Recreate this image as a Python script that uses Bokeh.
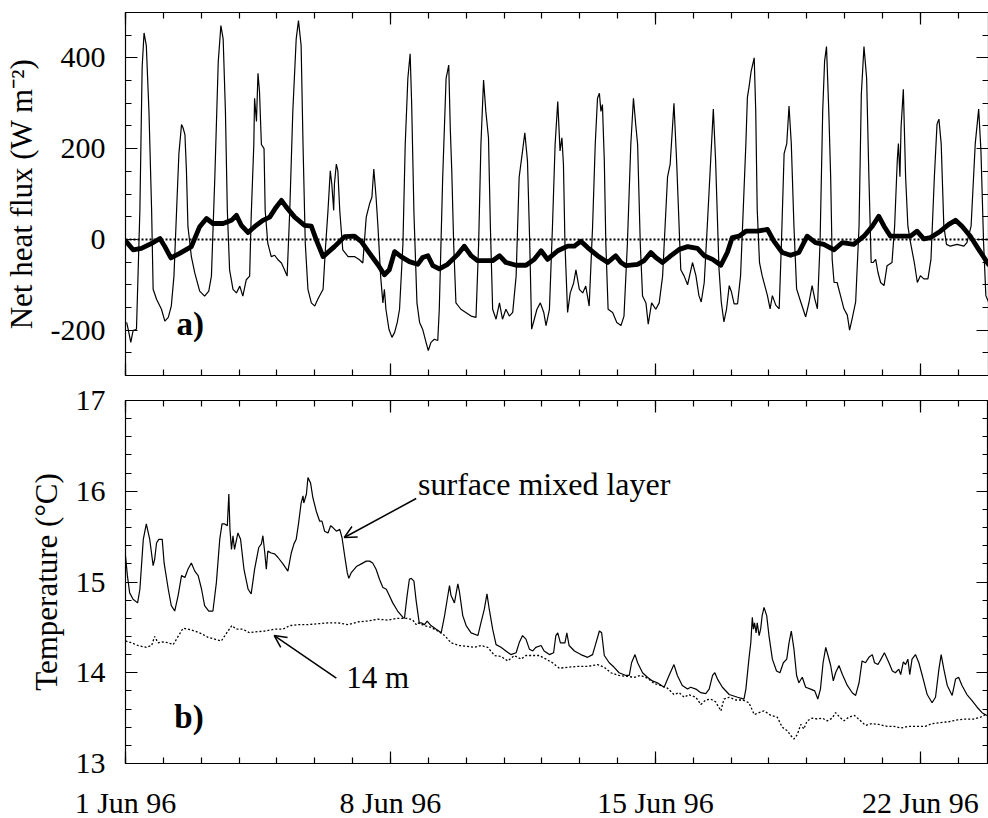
from bokeh.plotting import figure
from bokeh.layouts import column
from bokeh.models import Range1d, FixedTicker, LinearAxis, Span, Arrow, OpenHead, Label
from bokeh.embed import file_html
from bokeh.resources import INLINE

FONT = "Liberation Serif"

# ---------------- data (days since 1 Jun 1996 00:00) ----------------
flux_day = [0.03, 0.07, 0.14, 0.20, 0.29, 0.38, 0.44, 0.49, 0.55, 0.62, 0.69, 0.73, 0.82, 0.95,
            1.04, 1.13, 1.21, 1.28, 1.35, 1.41, 1.48, 1.52, 1.57, 1.61, 1.65, 1.74, 1.83, 1.96,
            2.09, 2.20, 2.27, 2.36, 2.45, 2.52, 2.58, 2.64, 2.69, 2.75, 2.84, 2.93,
            3.02, 3.10, 3.19, 3.28, 3.32, 3.39, 3.41, 3.46, 3.50, 3.54, 3.59, 3.66, 3.69, 3.76, 3.85, 3.94,
            4.03, 4.12, 4.20, 4.27, 4.34, 4.42, 4.51, 4.57, 4.64, 4.69, 4.75, 4.82, 4.91,
            5.00, 5.08, 5.22, 5.28, 5.35, 5.41, 5.45, 5.50, 5.52, 5.57, 5.61, 5.66, 5.74, 5.88,
            6.05, 6.18, 6.27, 6.36, 6.45, 6.51, 6.56, 6.62, 6.67, 6.74, 6.80, 6.84, 6.88, 6.96,
            7.04, 7.11, 7.18, 7.24, 7.33, 7.39, 7.46, 7.52, 7.56, 7.62, 7.70, 7.77, 7.85, 7.94,
            8.00, 8.07, 8.16, 8.25, 8.29, 8.38, 8.47, 8.54, 8.58, 8.62, 8.67, 8.73, 8.86, 8.99,
            9.13, 9.26, 9.33, 9.39, 9.46, 9.52, 9.59, 9.64, 9.70, 9.79, 9.88, 9.96,
            10.05, 10.14, 10.23, 10.32, 10.40, 10.49, 10.55, 10.62, 10.68, 10.73, 10.80, 10.87, 10.96,
            11.05, 11.11, 11.20, 11.28, 11.35, 11.42, 11.48, 11.53, 11.57, 11.61, 11.68, 11.75, 11.84, 11.90, 11.99,
            12.08, 12.16, 12.25, 12.34, 12.41, 12.47, 12.52, 12.56, 12.60, 12.65, 12.69, 12.75, 12.87, 12.98,
            13.09, 13.17, 13.26, 13.35, 13.42, 13.48, 13.53, 13.60, 13.66, 13.75, 13.81, 13.90,
            14.01, 14.10, 14.19, 14.32, 14.39, 14.45, 14.49, 14.56, 14.61, 14.67, 14.76, 14.85, 14.98,
            15.07, 15.15, 15.21, 15.29, 15.37, 15.46, 15.53, 15.59, 15.68, 15.74, 15.81, 15.88, 15.95,
            16.01, 16.08, 16.17, 16.25, 16.32, 16.39, 16.43, 16.47, 16.53, 16.61, 16.65, 16.69, 16.75, 16.82, 16.89, 16.96,
            17.03, 17.09, 17.18, 17.27, 17.33, 17.40, 17.47, 17.53, 17.59, 17.66, 17.73, 17.84, 17.97,
            18.06, 18.14, 18.21, 18.28, 18.35, 18.42, 18.47, 18.52, 18.58, 18.63, 18.67, 18.72, 18.80, 18.89, 18.98,
            19.07, 19.13, 19.20, 19.29, 19.38, 19.44, 19.51, 19.58, 19.64, 19.70, 19.75, 19.82, 19.88, 19.95,
            20.04, 20.12, 20.25, 20.32, 20.39, 20.42, 20.46, 20.49, 20.55, 20.61, 20.67, 20.74, 20.84, 20.92,
            21.00, 21.09, 21.20, 21.28, 21.37, 21.44, 21.49, 21.55, 21.62, 21.69, 21.79, 21.97,
            22.15, 22.23, 22.34, 22.45, 22.54, 22.60, 22.67, 22.73, 22.80]
flux_val = [-183, -198, -227, -201, -198, 64, 380, 455, 427, 282, 64, -110, -132, -154,
            -180, -172, -147, -81, 64, 188, 253, 246, 231, 151, 28, -38, -74, -114,
            -125, -114, -81, 137, 391, 471, 442, 282, 64, -67, -110, -118,
            -103, -125, -89, -81, 49, 209, 311, 260, 366, 326, 209, 200, 64, -9, -38, -35,
            -45, -52, -67, -81, 64, 282, 442, 482, 427, 209, -9, -110, -140,
            -147, -132, -110, -23, 64, 151, 122, 64, 122, 166, 151, 64, -23, -38,
            -38, -45, -52, 49, 79, 93, 155, 93, 28, -81, -140, -110, -154, -198,
            -216, -205, -183, -154, -9, 209, 355, 409, 300, 60, -140, -183, -198, -227,
            -245, -227, -220, -223, -154, 137, 355, 384, 246, 151, -9, -140, -154, -161,
            -169, -172, -9, 209, 351, 282, 224, 28, -154, -176, -140, -176,
            -154, -169, -161, -81, 137, 195, 235, 173, -9, -198, -176, -154, -140,
            -161, -190, -154, 28, 209, 304, 195, 224, 166, -9, -161, -118, -96, -67, -110,
            -118, -103, -147, 28, 209, 311, 322, 282, 297, 173, -9, -154, -161, -183,
            -190, -169, -9, 209, 311, 253, 209, -9, -125, -140, -187, -140,
            -154, -140, -81, 137, 166, 246, 300, 173, 64, -67, -81, -100, -51,
            -80, -124, -138, -95, 29, 174, 287, 174, -65, -138, -182, -153, -102,
            -116, -142, -142, -80, 65, 211, 313, 334, 371, 400, 284, 65, -51, -80, -102, -124,
            -153, -124, -145, -153, -7, 189, 211, 294, 211, 29, -109, -138, -171,
            -138, -102, -131, -153, -7, 284, 393, 425, 284, 138, -44, -95, -95, -124, -153,
            -167, -200, -174, -138, 29, 320, 425, 356, 138, -51, -51, -44, -73, -95,
            -102, -58, -51, 29, 174, 211, 138, 247, 331, 138, 29, -7, -51, -95,
            -80, -87, -87, -44, 138, 254, 265, 211, 29, -11, -15, -11,
            -15, -7, 29, 211, 287, 196, -7, -124, -138]

mean_day = [0.02, 0.20, 0.42, 0.69, 0.91, 1.04, 1.20, 1.43, 1.74, 1.96, 2.14, 2.31, 2.58, 2.80, 2.93,
            3.06, 3.24, 3.41, 3.63, 3.81, 3.98, 4.12, 4.25, 4.47, 4.73, 4.91, 5.04, 5.22, 5.52, 5.79,
            6.05, 6.23, 6.45, 6.67, 6.84, 6.97, 7.11, 7.28, 7.50, 7.72, 7.85, 7.99, 8.12, 8.29, 8.51,
            8.78, 8.95, 9.13, 9.30, 9.70, 9.88, 10.05, 10.32, 10.58, 10.80, 10.98, 11.15, 11.42, 11.68,
            11.86, 12.03, 12.21, 12.47, 12.74, 12.95, 13.09, 13.22, 13.53, 13.70, 13.88, 14.01, 14.19,
            14.41, 14.63, 14.85, 15.11, 15.29, 15.51, 15.73, 15.90, 16.03, 16.21, 16.39, 16.69, 16.96,
            17.13, 17.35, 17.57, 17.79, 18.01, 18.23, 18.45, 18.72, 18.94, 19.24, 19.51, 19.73, 19.90,
            20.04, 20.21, 20.48, 20.74, 20.91, 21.09, 21.27, 21.53, 21.75, 21.93, 22.10, 22.32, 22.54, 22.80]
mean_val = [-5, -23, -20, -9, 2, -16, -41, -31, -16, 28, 46, 35, 35, 42, 53,
            31, 15, 28, 42, 49, 71, 86, 71, 49, 31, 29, -1, -38, -16, 6,
            7, -5, -31, -56, -78, -67, -27, -38, -49, -55, -40, -36, -58, -65, -55,
            -33, -15, -36, -47, -47, -36, -51, -57, -57, -44, -25, -44, -25, -15,
            -15, -4, -18, -36, -51, -36, -51, -58, -55, -47, -29, -40, -51,
            -36, -22, -16, -20, -36, -44, -57, -29, 4, 7, 18, 18, 22,
            -4, -29, -35, -29, 7, -7, -11, -23, -7, -11, 7, 29, 51,
            29, 7, 7, 7, 18, 1, 4, 18, 33, 42, 29, 7, -22, -55]

sml_day = [0.00, 0.05, 0.11, 0.20, 0.32, 0.38, 0.47, 0.55, 0.64, 0.73, 0.77, 0.82, 0.88, 0.97,
           1.02, 1.13, 1.21, 1.30, 1.39, 1.48, 1.57, 1.65, 1.74, 1.83, 1.92, 2.01, 2.09, 2.20, 2.31,
           2.40, 2.49, 2.55, 2.62, 2.69, 2.73, 2.76, 2.80, 2.84, 2.88, 2.97, 3.04, 3.13, 3.24, 3.32,
           3.41, 3.52, 3.59, 3.63, 3.68, 3.72, 3.76, 3.85, 3.94, 4.03, 4.16, 4.29, 4.38, 4.45, 4.51,
           4.57, 4.64, 4.69, 4.71, 4.78, 4.82, 4.89, 4.95, 5.04, 5.13, 5.19, 5.26, 5.35, 5.42, 5.48,
           5.57, 5.66, 5.72, 5.79, 5.86, 5.90, 5.96, 6.10, 6.23, 6.36, 6.45, 6.53, 6.62, 6.71, 6.80,
           6.89, 6.97, 7.06, 7.19, 7.33, 7.37, 7.44, 7.50, 7.55, 7.62, 7.68, 7.76,
           7.81, 7.90, 7.97, 8.07, 8.21, 8.34, 8.43, 8.50, 8.56, 8.60, 8.69, 8.78, 8.82, 8.91,
           9.00, 9.13, 9.31, 9.39, 9.48, 9.55, 9.61, 9.70, 9.79, 9.92, 10.05, 10.18, 10.32, 10.40,
           10.49, 10.58, 10.67, 10.76, 10.84, 10.98, 11.06, 11.20, 11.31, 11.37, 11.42, 11.49, 11.61,
           11.66, 11.72, 11.86, 12.03, 12.21, 12.34, 12.43, 12.52, 12.58, 12.65, 12.78, 12.91, 13.04,
           13.22, 13.31, 13.37, 13.46, 13.53, 13.66, 13.79, 13.92, 14.05, 14.23, 14.36, 14.49, 14.58,
           14.71, 14.85,
           14.93, 15.07, 15.20, 15.33, 15.42, 15.51, 15.57, 15.64, 15.77, 15.95, 16.17, 16.34, 16.39,
           16.47, 16.52, 16.56, 16.59, 16.62, 16.66, 16.69, 16.74, 16.78, 16.82, 16.87, 16.94, 17.00,
           17.09, 17.20, 17.29, 17.38, 17.47, 17.53, 17.59, 17.66, 17.73, 17.79, 17.88, 17.97, 18.10,
           18.21, 18.29, 18.36, 18.43, 18.50, 18.56, 18.63, 18.70, 18.76, 18.85, 18.94, 19.07, 19.20,
           19.29, 19.38, 19.46, 19.55, 19.64, 19.73, 19.79, 19.88, 19.96, 20.05, 20.17, 20.26, 20.34,
           20.43, 20.48, 20.55, 20.61, 20.67, 20.72, 20.78, 20.87, 20.96, 21.05, 21.18, 21.31, 21.40,
           21.49, 21.55, 21.62, 21.71, 21.84, 21.93, 22.01, 22.10, 22.23, 22.37, 22.50, 22.63, 22.76]
sml_temp = [15.29, 15.07, 14.88, 14.81, 14.77, 14.92, 15.47, 15.64, 15.47, 15.18, 15.25, 15.43, 15.47, 15.47,
            15.21, 14.92, 14.74, 14.68, 14.85, 15.07, 15.05, 15.14, 15.21, 15.12, 15.07, 14.92, 14.74, 14.68, 14.68,
            14.99, 15.47, 15.64, 15.64, 15.62, 15.97, 15.58, 15.36, 15.51, 15.36, 15.54, 15.47, 15.14, 14.92, 14.87,
            15.14, 15.38, 15.42, 15.51, 15.32, 15.14, 15.34, 15.32, 15.31, 15.27, 15.20, 15.12, 15.32, 15.42, 15.47,
            15.64, 15.87, 15.95, 15.87, 15.97, 16.15, 16.09, 15.93, 15.78, 15.67, 15.67, 15.56, 15.54, 15.62, 15.60,
            15.56, 15.58, 15.49, 15.29, 15.10, 15.04, 15.10, 15.17, 15.20, 15.23, 15.23, 15.21, 15.14, 15.03, 14.94,
            14.92, 14.85, 14.77, 14.68, 14.61, 14.60, 14.85, 15.03, 15.04, 15.01, 14.79, 14.55,
            14.55, 14.53, 14.57, 14.52, 14.48, 14.44, 14.63, 14.81, 14.96, 14.85, 14.77, 14.98, 14.90, 14.63,
            14.52, 14.44, 14.41, 14.55, 14.70, 14.87, 14.70, 14.48, 14.31, 14.28, 14.24, 14.20, 14.22, 14.33,
            14.41, 14.37, 14.26, 14.24, 14.28, 14.30, 14.24, 14.20, 14.22, 14.41, 14.44, 14.33, 14.33,
            14.44, 14.30, 14.24, 14.20, 14.17, 14.20, 14.33, 14.46, 14.44, 14.19, 14.11, 14.06, 14.00,
            13.97, 13.97, 14.11, 14.20, 14.11, 14.00, 13.95, 13.91, 13.89, 13.84, 13.97, 14.09, 13.97,
            13.86, 13.82,
            13.84, 13.82, 13.78, 13.77, 13.82, 13.97, 14.00, 13.93, 13.84, 13.76, 13.73, 13.71, 13.82,
            14.15, 14.33, 14.61, 14.48, 14.55, 14.44, 14.55, 14.41, 14.48, 14.63, 14.72, 14.63, 14.41,
            14.15, 14.02, 14.00, 14.11, 14.15, 14.33, 14.46, 14.26, 13.97, 13.89, 13.95, 13.84, 13.82,
            13.80, 13.71, 13.82, 14.11, 14.28, 14.19, 14.08, 13.91, 14.00, 14.08, 13.98, 13.86, 13.78,
            13.75, 13.89, 14.13, 14.11, 14.17, 14.20, 14.11, 14.09, 14.15, 14.22, 14.11, 14.02, 14.00,
            14.04, 13.98, 14.12, 14.09, 14.15, 13.98, 14.15, 14.20, 14.11, 13.97, 13.76, 13.67, 13.73,
            14.04, 14.20, 14.04, 13.86, 13.75, 13.93, 13.95, 13.86, 13.76, 13.69, 13.62, 13.56, 13.53]

t14_day = [0.00, 0.16, 0.33, 0.55, 0.69, 0.77, 0.86, 0.99, 1.13, 1.26, 1.39, 1.52, 1.65, 1.83,
           2.01, 2.18, 2.36, 2.53, 2.66, 2.81, 2.93, 3.10, 3.28, 3.41, 3.68, 3.94, 4.16, 4.34, 4.56,
           4.82, 5.08, 5.35, 5.61, 5.88, 6.14, 6.40, 6.67, 6.93, 7.19, 7.46, 7.59, 7.68,
           7.72, 7.90, 8.07, 8.25, 8.43, 8.60, 8.82, 9.04, 9.22, 9.39, 9.57, 9.75, 9.92, 10.10, 10.27,
           10.45, 10.58, 10.76, 10.93, 11.11, 11.28, 11.46, 11.68, 11.94, 12.21, 12.47, 12.65, 12.82,
           13.04, 13.26, 13.44, 13.61, 13.79, 13.97, 14.14, 14.32, 14.49, 14.63, 14.76, 14.89,
           14.93, 15.07, 15.20, 15.33, 15.46, 15.59, 15.73, 15.81, 15.95, 16.12, 16.30, 16.47, 16.61,
           16.74, 16.87, 17.05, 17.22, 17.35, 17.49, 17.57, 17.66, 17.75, 17.84, 17.92, 18.01, 18.14,
           18.28, 18.41, 18.54, 18.67, 18.76, 18.87, 18.98, 19.11, 19.26, 19.42, 19.55, 19.73, 19.90,
           20.12, 20.30, 20.48, 20.70, 20.91, 21.13, 21.31, 21.53, 21.75, 21.97, 22.19, 22.41, 22.59,
           22.72, 22.80]
t14_temp = [14.35, 14.33, 14.30, 14.28, 14.30, 14.40, 14.33, 14.34, 14.33, 14.31, 14.40, 14.49, 14.48, 14.46,
            14.43, 14.39, 14.37, 14.35, 14.43, 14.52, 14.48, 14.48, 14.44, 14.45, 14.46, 14.48, 14.48, 14.52, 14.53,
            14.53, 14.54, 14.55, 14.55, 14.53, 14.56, 14.57, 14.59, 14.58, 14.60, 14.60, 14.58, 14.53,
            14.55, 14.52, 14.50, 14.46, 14.41, 14.33, 14.30, 14.29, 14.28, 14.30, 14.28, 14.19, 14.18, 14.13, 14.19,
            14.15, 14.19, 14.19, 14.19, 14.15, 14.11, 14.05, 14.06, 14.07, 14.07, 14.09, 14.06, 14.00,
            13.97, 13.96, 13.95, 13.97, 13.94, 13.88, 13.86, 13.83, 13.76, 13.78, 13.73, 13.76,
            13.75, 13.73, 13.65, 13.70, 13.71, 13.68, 13.58, 13.71, 13.73, 13.70, 13.70, 13.67, 13.54,
            13.56, 13.58, 13.53, 13.51, 13.40, 13.36, 13.31, 13.27, 13.32, 13.43, 13.38, 13.47, 13.50,
            13.49, 13.50, 13.47, 13.50, 13.56, 13.51, 13.47, 13.51, 13.53, 13.47, 13.42, 13.44, 13.43,
            13.41, 13.41, 13.39, 13.41, 13.41, 13.41, 13.44, 13.45, 13.46, 13.48, 13.49, 13.49, 13.51,
            13.54, 13.53]

x_major = [0, 7, 14, 21]
x_labels = ["1 Jun 96", "8 Jun 96", "15 Jun 96", "22 Jun 96"]
x_minor = list(range(0, 23))
flux_major = [-200, 0, 200, 400]
flux_labels = ["-200", "0", "200", "400"]
flux_minor = list(range(-300, 501, 50))
temp_major = [13, 14, 15, 16, 17]
temp_labels = ["13", "14", "15", "16", "17"]
temp_minor = [13 + 0.2 * i for i in range(21)]

# ---------------- helpers ----------------
def tick_axis(ax, major, minor, labels=None):
    ax.ticker = FixedTicker(ticks=major, minor_ticks=minor)
    ax.major_tick_in = 12
    ax.major_tick_out = 0
    ax.minor_tick_in = 6
    ax.minor_tick_out = 0
    ax.axis_line_color = "black"
    ax.major_tick_line_color = "black"
    ax.minor_tick_line_color = "black"
    ax.major_tick_line_width = 1.2
    ax.minor_tick_line_width = 1.2
    if labels is None:
        ax.major_label_text_font_size = "0px"
        ax.major_label_standoff = 0
    else:
        ax.major_label_overrides = {m: l for m, l in zip(major, labels)}
        ax.major_label_text_font = FONT
        ax.major_label_text_font_size = "30px"
        ax.major_label_text_color = "black"


def make_fig(y_range, frame_h, top, bottom):
    p = figure(frame_width=863, frame_height=frame_h, x_range=Range1d(0, 22.8), y_range=y_range,
               output_backend="svg", toolbar_location=None,
               min_border_left=124, min_border_right=1, min_border_top=top, min_border_bottom=bottom)
    p.grid.visible = False
    p.outline_line_color = "black"
    p.outline_line_width = 1.2
    p.background_fill_color = "white"
    p.border_fill_color = "white"
    return p


def y_label(ax, text):
    ax.axis_label = text
    ax.axis_label_text_font = FONT
    ax.axis_label_text_font_size = "31px"
    ax.axis_label_text_font_style = "normal"
    ax.axis_label_text_color = "black"
    ax.axis_label_standoff = 9
    ax.major_label_standoff = 20


# ---------------- top panel ----------------
p1 = make_fig(Range1d(-300, 500), 363, 12, 3)
tick_axis(p1.xaxis[0], x_major, x_minor)
tick_axis(p1.yaxis[0], flux_major, flux_minor, flux_labels)
y_label(p1.yaxis[0], "Net heat flux (W m\u207b\u00b2)")
ax_top1 = LinearAxis()
tick_axis(ax_top1, x_major, x_minor)
p1.add_layout(ax_top1, "above")
ax_r1 = LinearAxis()
tick_axis(ax_r1, flux_major, flux_minor)
p1.add_layout(ax_r1, "right")

p1.add_layout(Span(location=0, dimension="width", line_color="black", line_dash="2 2", line_width=2))
p1.line(flux_day, flux_val, line_color="black", line_width=1.2)
p1.line(mean_day, mean_val, line_color="black", line_width=4.8, line_join="round", line_cap="round")
p1.add_layout(Label(x=1.35, y=-227, text="a)", text_font=FONT, text_font_size="33px",
                    text_font_style="bold", text_color="black"))

# ---------------- bottom panel ----------------
p2 = make_fig(Range1d(13, 17), 363, 22, 20)
tick_axis(p2.xaxis[0], x_major, x_minor, x_labels)
p2.xaxis[0].major_label_standoff = 22
tick_axis(p2.yaxis[0], temp_major, temp_minor, temp_labels)
y_label(p2.yaxis[0], "Temperature (\u00b0C)")
ax_top2 = LinearAxis()
tick_axis(ax_top2, x_major, x_minor)
p2.add_layout(ax_top2, "above")
ax_r2 = LinearAxis()
tick_axis(ax_r2, temp_major, temp_minor)
p2.add_layout(ax_r2, "right")

p2.line(t14_day, t14_temp, line_color="black", line_width=1.3, line_dash="2 2")
p2.line(sml_day, sml_temp, line_color="black", line_width=1.2)

p2.add_layout(Label(x=1.29, y=13.31, text="b)", text_font=FONT, text_font_size="33px",
                    text_font_style="bold", text_color="black"))
p2.add_layout(Label(x=7.73, y=15.88, text="surface mixed layer", text_font=FONT,
                    text_font_size="32px", text_color="black"))
p2.add_layout(Label(x=5.83, y=13.76, text="14 m", text_font=FONT,
                    text_font_size="31px", text_color="black"))
p2.add_layout(Arrow(end=OpenHead(size=12, line_width=1.5, line_color="black"),
                    x_start=7.68, y_start=15.92, x_end=5.78, y_end=15.49,
                    line_width=1.5, line_color="black"))
p2.add_layout(Arrow(end=OpenHead(size=12, line_width=1.5, line_color="black"),
                    x_start=5.57, y_start=13.94, x_end=3.93, y_end=14.41,
                    line_width=1.5, line_color="black"))

layout = column(p1, p2, spacing=0)
open("out.html", "w").write(file_html(layout, INLINE))
